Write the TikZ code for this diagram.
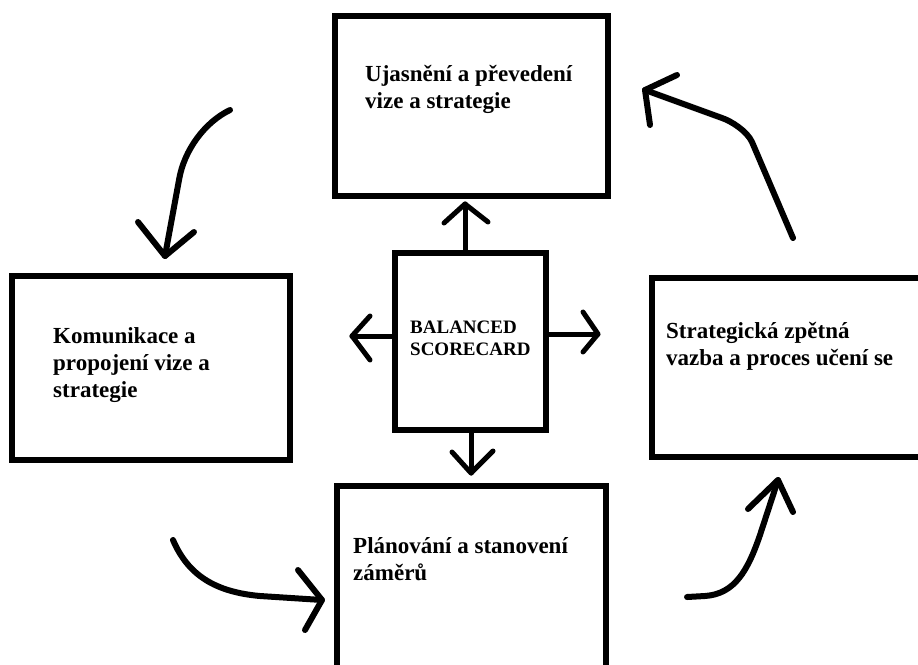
\documentclass[tikz,border=0pt]{standalone}
\usepackage{fontspec}
\setmainfont{Liberation Serif}
\begin{document}
\begin{tikzpicture}[x=1pt,y=-1pt,
  frame/.style={draw=black,line width=6pt,rectangle,inner sep=0pt,fill=white},
  label/.style={inner sep=0pt,anchor=base west,align=left,font=\fontsize{23}{27}\selectfont\bfseries},
  smalllabel/.style={inner sep=0pt,anchor=base west,align=left,font=\fontsize{19}{22}\selectfont\bfseries},
  conn/.style={draw=black,line width=5pt,line cap=round,line join=round},
  sweep/.style={draw=black,line width=6pt,line cap=round,line join=round}]
\useasboundingbox (0,0) rectangle (918,664);
\clip (0,0) rectangle (918,664);
\fill[white] (0,0) rectangle (918,664);

% the five boxes
\node[frame,minimum width=273pt,minimum height=180pt] (top) at (471,106) {};
\node[frame,minimum width=150.5pt,minimum height=177.5pt] (bsc) at (470.25,341.25) {};
\node[frame,minimum width=278pt,minimum height=183.5pt] (left) at (151,367.75) {};
\node[frame,minimum width=278.5pt,minimum height=179pt] (right) at (790.75,367.5) {};
\node[frame,minimum width=269.5pt,minimum height=194pt] (bottom) at (471.25,583) {};

% texts (anchored at the baseline of their last line)
\node[label] (ttop) at (365,108) {Ujasnění a převedení\\vize a strategie};
\node[smalllabel] (tbsc) at (410,355) {BALANCED\\SCORECARD};
\node[label] (tleft) at (53,397) {Komunikace a\\propojení vize a\\strategie};
\node[label] (tright) at (666,365) {Strategická zpětná\\vazba a proces učení se};
\node[label] (tbottom) at (353,580) {Plánování a stanovení\\záměrů};

% straight arrows from the centre box
\coordinate (tipN) at (465,204);
\coordinate (tipE) at (598,334);
\coordinate (tipS) at (471,473);
\coordinate (tipW) at (352,336);
\draw[conn] (bsc.north -| tipN) -- (tipN);
\draw[conn] (tipN) ++(-21,19) -- (tipN) -- ++(23,18);
\draw[conn] (bsc.east |- tipE) -- (tipE);
\draw[conn] (tipE) ++(-15,-22) -- (tipE) -- ++(-15,18);
\draw[conn] (bsc.south -| tipS) -- (tipS);
\draw[conn] (tipS) ++(-19,-21) -- (tipS) -- ++(22,-22);
\draw[conn] (bsc.west |- tipW) -- (tipW);
\draw[conn] (tipW) ++(18,-20) -- (tipW) -- ++(18,24);

% hand drawn cycle arrows
\coordinate (tlS) at (230,110);
\coordinate (tlT) at (165,256);
\draw[sweep] (tlS) .. controls (205,122) and (184,150) .. (179,180) -- (tlT);
\draw[sweep] (tlT) ++(-27,-34) -- (tlT) -- ++(29,-24);

\coordinate (blS) at (173,540);
\coordinate (blT) at (322,600);
\draw[sweep] (blS) .. controls (188,575) and (215,592) .. (260,596) -- (blT);
\draw[sweep] (blT) ++(-24,-30) -- (blT) -- ++(-17,30);

\coordinate (brS) at (687,597);
\coordinate (brT) at (778,480);
\draw[sweep] (brS) -- (705,596) .. controls (735,594) and (748,570) .. (760,535) -- (brT);
\draw[sweep] (brT) ++(-30,29) -- (brT) -- ++(15,32);

\coordinate (trS) at (793,238);
\coordinate (trT) at (645,90);
\draw[sweep] (trS) -- (752,142) .. controls (747,131) and (731,121) .. (722,118) -- (trT);
\draw[sweep] (trT) ++(32,-15) -- (trT) -- ++(5,35);
\end{tikzpicture}
\end{document}
